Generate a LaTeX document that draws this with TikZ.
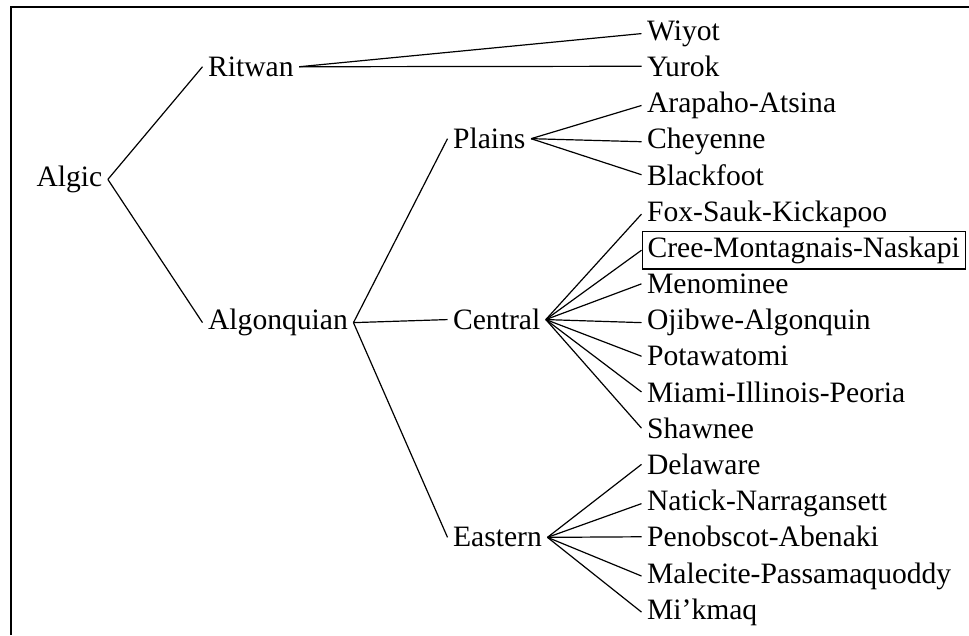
\documentclass[tikz,border=0pt]{standalone}
\usepackage{fontspec}
\setmainfont{Liberation Serif}
\begin{document}
\begin{tikzpicture}[x=1pt,y=-1pt,
  lang/.style={anchor=base west, inner sep=5.4pt, font=\fontsize{29.6}{35}\selectfont},
  branch/.style={line width=1.2pt},
  frame/.style={line width=2.5pt},
  boxed/.style={draw, line width=1.2pt}]
\useasboundingbox (0,0) rectangle (969,635);

% partial frame (top and left edges)
\draw[frame] (11.2,635) -- (11.2,7) -- (969,7);

% root and families
\node[lang] (algic) at (30.9,186.5) {Algic};
\node[lang] (ritwan) at (202.5,76.4) {Ritwan};
\node[lang] (algonquian) at (202.5,329.7) {Algonquian};
\node[lang] (plains) at (447.5,148.8) {Plains};
\node[lang] (central) at (447.5,329.7) {Central};
\node[lang] (eastern) at (447.5,546.9) {Eastern};

% languages
\node[lang] (wiyot) at (641.5,40.2) {Wiyot};
\node[lang] (yurok) at (641.5,76.4) {Yurok};
\node[lang] (arapaho) at (641.5,112.6) {Arapaho-Atsina};
\node[lang] (cheyenne) at (641.5,148.8) {Cheyenne};
\node[lang] (blackfoot) at (641.5,185.0) {Blackfoot};
\node[lang] (fox) at (641.5,221.2) {Fox-Sauk-Kickapoo};
\node[lang,boxed] (cree) at (641.5,257.3) {Cree-Montagnais-Naskapi};
\node[lang] (menominee) at (641.5,293.5) {Menominee};
\node[lang] (ojibwe) at (641.5,329.7) {Ojibwe-Algonquin};
\node[lang] (potawatomi) at (641.5,365.9) {Potawatomi};
\node[lang] (miami) at (641.5,402.1) {Miami-Illinois-Peoria};
\node[lang] (shawnee) at (641.5,438.3) {Shawnee};
\node[lang] (delaware) at (641.5,474.5) {Delaware};
\node[lang] (natick) at (641.5,510.7) {Natick-Narragansett};
\node[lang] (penobscot) at (641.5,546.9) {Penobscot-Abenaki};
\node[lang] (malecite) at (641.5,583.1) {Malecite-Passamaquoddy};
\node[lang] (mikmaq) at (641.5,619.2) {Mi’kmaq};

% branches
\foreach \c in {ritwan,algonquian} \draw[branch] (algic.east) -- (\c.west);
\foreach \c in {wiyot,yurok} \draw[branch] (ritwan.east) -- (\c.west);
\foreach \c in {plains,central,eastern} \draw[branch] (algonquian.east) -- (\c.west);
\foreach \c in {arapaho,cheyenne,blackfoot} \draw[branch] (plains.east) -- (\c.west);
\foreach \c in {fox,cree,menominee,ojibwe,potawatomi,miami,shawnee} \draw[branch] (central.east) -- (\c.west);
\foreach \c in {delaware,natick,penobscot,malecite,mikmaq} \draw[branch] (eastern.east) -- (\c.west);
\end{tikzpicture}
\end{document}
